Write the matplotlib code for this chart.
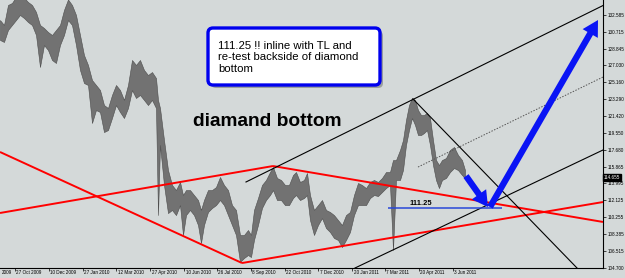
import matplotlib.pyplot as plt
from matplotlib.patches import FancyBboxPatch

# price data (bar position, high, low)
bars = [0, 4, 8, 12, 16, 20, 24, 28, 32, 36, 40, 44, 48, 52, 56, 60, 64, 68, 72, 76,
        80, 84, 88, 92, 96, 100, 104, 108, 112, 116, 120, 124, 128, 132, 136, 140, 144, 148, 152, 156,
        158, 160, 164, 168, 172, 176, 180, 183, 186, 190, 194, 198, 201, 204, 208, 212, 216, 220, 224, 228,
        232, 236, 240, 244, 248, 251, 254, 258, 262, 266, 270, 273, 277, 281, 285, 289, 293, 296, 300, 304,
        307, 310, 314, 318, 322, 326, 330, 334, 338, 342, 346, 350, 354, 358, 362, 366, 370, 374, 378, 382,
        386, 390, 393, 396, 400, 403, 406, 409, 412, 415, 418, 421, 424, 427, 430, 433, 436, 439, 442, 446,
        450, 454, 458, 462, 465]
highs = [132.03, 131.48, 133.69, 133.91, 134.6, 134.6, 134.5, 134.02, 133.69, 132.92, 131.48, 131.15, 130.71, 130.38, 130.93, 131.48, 133.14, 134.3, 133.69, 132.59,
         130.38, 128.17, 127.07, 125.41, 124.86, 124.31, 122.65, 122.32, 123.76, 124.86, 124.31, 123.21, 124.86, 127.62, 127.07, 127.62, 126.52, 125.96, 126.29, 125.63,
         123.21, 122.32, 118.79, 115.48, 113.83, 113.27, 114.16, 112.72, 113.27, 113.27, 112.72, 112.17, 111.07, 112.17, 113.27, 113.27, 113.60, 114.71, 113.83, 113.27,
         111.61, 111.07, 108.31, 108.31, 108.86, 108.31, 111.07, 112.39, 113.83, 114.38, 115.26, 115.81, 114.60, 114.38, 113.83, 113.83, 114.93, 115.26, 114.16, 114.38,
         115.15, 112.72, 111.07, 111.61, 112.17, 111.07, 110.85, 110.51, 109.96, 109.41, 110.51, 110.85, 112.72, 114.05, 113.83, 113.49, 114.16, 114.38, 114.16, 114.60,
         115.26, 115.26, 116.58, 116.58, 117.69, 118.79, 121.00, 122.65, 123.43, 123.21, 122.10, 121.55, 121.55, 121.77, 121.22, 118.79, 116.58, 116.03, 116.58, 116.80,
         117.69, 118.02, 117.14, 116.58, 115.48]
lows = [129.83, 129.61, 130.93, 131.48, 132.03, 132.59, 132.25, 131.81, 131.48, 130.38, 126.85, 129.27, 128.72, 127.62, 127.29, 129.27, 130.38, 132.03, 131.48, 129.27,
        126.52, 125.08, 124.86, 120.67, 122.10, 121.88, 119.67, 119.89, 121.22, 122.65, 121.88, 121.22, 122.32, 124.31, 123.43, 123.76, 123.21, 122.65, 123.21, 122.32,
        110.51, 118.24, 113.83, 110.73, 111.07, 110.51, 111.61, 108.31, 110.51, 111.07, 110.51, 109.41, 107.43, 109.41, 110.85, 111.29, 111.61, 112.17, 111.61, 110.51,
        109.41, 108.31, 105.33, 105.77, 106.10, 105.88, 107.76, 109.41, 111.29, 112.17, 112.72, 113.27, 112.17, 112.17, 111.61, 111.61, 112.39, 112.72, 112.17, 112.39,
        112.72, 109.96, 108.31, 109.41, 110.18, 109.08, 108.64, 107.98, 107.76, 106.98, 107.76, 108.64, 110.51, 111.61, 111.61, 111.61, 112.39, 112.72, 112.61, 113.05,
        113.49, 113.83, 106.65, 114.38, 114.38, 115.48, 118.24, 119.89, 121.22, 120.45, 119.34, 119.34, 119.56, 119.89, 118.24, 116.03, 114.38, 113.49, 114.38, 114.60,
        115.26, 115.70, 115.48, 114.93, 114.60]

last_price = 114.655
target = 111.25

price_ticks = [132.585, 130.715, 128.845, 127.030, 125.160, 123.290, 121.420, 119.550,
               117.680, 115.865, 113.995, 112.125, 110.255, 108.385, 106.515, 104.700]
date_pos = [0, 15, 49, 83, 116, 150, 184, 217, 251, 285, 318, 352, 385, 419, 453]
date_labels = ['2009', '27 Oct 2009', '10 Dec 2009', '27 Jan 2010', '12 Mar 2010',
               '27 Apr 2010', '10 Jun 2010', '26 Jul 2010', '8 Sep 2010', '22 Oct 2010',
               '7 Dec 2010', '20 Jan 2011', '7 Mar 2011', '20 Apr 2011', '3 Jun 2011']

# trendlines: (x0, y0, x1, y1)
red_lines = [(0, 117.47, 242, 105.22),
             (0, 110.74, 273, 115.92),
             (273, 115.92, 603, 109.75),
             (242, 105.22, 603, 111.95)]
black_lines = [(246, 114.16, 603, 133.63),
               (413, 123.32, 577, 104.67),
               (355, 104.67, 603, 117.69)]
dotted_line = (418, 115.81, 603, 125.74)

bg = '#d4d9d9'
fig = plt.figure(figsize=(6.25, 2.78), dpi=100, facecolor=bg)
ax = fig.add_axes([0, 10 / 278, 603 / 625, 268 / 278], facecolor=bg)
ax.set_xlim(0, 603)
ax.set_ylim(104.67, 134.24)

for s in ['top', 'left']:
    ax.spines[s].set_visible(False)
for s in ['right', 'bottom']:
    ax.spines[s].set_color('black')
    ax.spines[s].set_linewidth(0.8)

# price
ax.fill_between(bars, lows, highs, color='#727272', lw=0.4, edgecolor='#4d4d4d', zorder=2)

for x0, y0, x1, y1 in red_lines:
    ax.plot([x0, x1], [y0, y1], color='#ff0000', lw=1.4, zorder=3, solid_capstyle='butt')
for x0, y0, x1, y1 in black_lines:
    ax.plot([x0, x1], [y0, y1], color='black', lw=0.8, zorder=3)
ax.plot(dotted_line[0::2], dotted_line[1::2], color='#555555', lw=0.7, ls=(0, (1.5, 1.5)), zorder=3)

# 111.25 level
ax.hlines(target, 388, 502, color='#2848d8', lw=1.1, zorder=4)
ax.text(421, target + 0.15, '111.25', fontsize=5.4, fontweight='bold', family='Liberation Sans',
        ha='center', va='bottom', zorder=5)

# blue arrows
arrow = dict(arrowstyle='simple,head_width=1.8,head_length=1.6,tail_width=0.65',
             mutation_scale=7, fc='#0a14f5', ec='none', shrinkA=0, shrinkB=0)
ax.annotate('', xy=(488, 111.4), xytext=(466, 114.82), arrowprops=arrow, zorder=6)
ax.annotate('', xy=(598, 132.03), xytext=(490, 111.4), arrowprops=arrow, zorder=6)

# text box
asp = 1 / 9.06
shadow = FancyBboxPatch((211, 124.86 - 0.33), 172, 6.29, boxstyle='round,pad=0,rounding_size=5',
                        mutation_aspect=asp, fc='#9a9e9e', ec='none', zorder=6)
box = FancyBboxPatch((208, 124.86), 172, 6.29, boxstyle='round,pad=0,rounding_size=5',
                     mutation_aspect=asp, fc='white', ec='#0000ee', lw=2.4, zorder=7)
ax.add_patch(shadow)
ax.add_patch(box)
ax.text(218, 127.92, '111.25 !! inline with TL and\nre-test backside of diamond\nbottom',
        fontsize=8.2, family='Liberation Sans', ha='left', va='center', linespacing=1.17, zorder=8)

ax.text(193, 120.8, 'diamand bottom', fontsize=13.8, fontweight='bold', family='Liberation Sans',
        ha='left', va='center', zorder=5)

# right price axis
ax.yaxis.tick_right()
ax.set_yticks(price_ticks)
ax.set_yticklabels(['%.3f' % p for p in price_ticks], fontsize=3.3, family='Liberation Sans')
ax.tick_params(axis='y', length=2, width=0.5, pad=1.5)
ax.text(1.0015, last_price, '%.3f' % last_price, transform=ax.get_yaxis_transform(),
        fontsize=3.3, family='Liberation Sans', color='white', va='center', ha='left',
        bbox=dict(boxstyle='square,pad=0.25', fc='black', ec='black'), zorder=10, clip_on=False)

# date axis
ax.set_xticks(date_pos[1:])
ax.set_xticklabels([])
ax.tick_params(axis='x', length=2, width=0.5)
for p, lab in zip(date_pos, date_labels):
    ax.text(p + 1.5, -0.008, lab, transform=ax.get_xaxis_transform(), fontsize=3.3,
            family='Liberation Sans', ha='left', va='top', clip_on=False)

fig.savefig('out.png', dpi=100, facecolor=bg)
